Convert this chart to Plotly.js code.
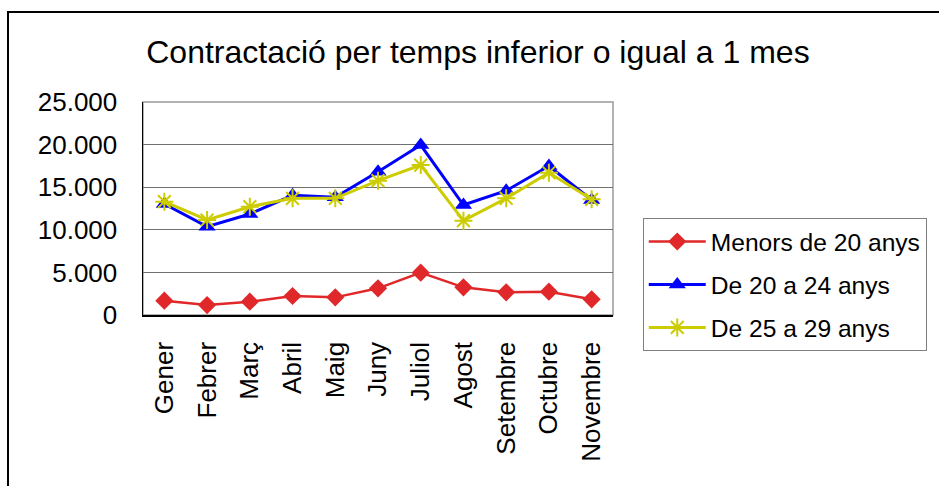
<!DOCTYPE html>
<html>
<head>
<meta charset="utf-8">
<script src="https://cdn.plot.ly/plotly-3.0.1.min.js"></script>
<style>
  html, body { margin: 0; padding: 0; background: #fff; }
  #wrap { position: relative; width: 939px; height: 486px; }
  #chart { width: 939px; height: 486px; }
  #frame { position: absolute; left: 7px; top: 11px; width: 940px; height: 480px;
           border-left: 2px solid #000; border-top: 2px solid #000; pointer-events: none; }
</style>
</head>
<body>
<div id="wrap">
  <div id="chart"></div>
  <div id="frame"></div>
</div>
<script>
const months = ["Gener","Febrer","Març","Abril","Maig","Juny","Juliol","Agost","Setembre","Octubre","Novembre"];
const menors20 = [1680, 1170, 1560, 2230, 2070, 3130, 4970, 3250, 2660, 2740, 1840];
const de20a24 = [13030, 10370, 11850, 14050, 13810, 16820, 19950, 12910, 14590, 17490, 13500];
const de25a29 = [13300, 11150, 12710, 13690, 13690, 15770, 17600, 11070, 13690, 16700, 13580];
const seriesNames = ["Menors de 20 anys", "De 20 a 24 anys", "De 25 a 29 anys"];
const yTickVals = [0, 5000, 10000, 15000, 20000, 25000];
const yTickText = ["0", "5.000", "10.000", "15.000", "20.000", "25.000"];

const traces = [
  { x: months, y: menors20, name: seriesNames[0], type: "scatter", mode: "lines+markers",
    legendgroup: "a",
    line: { color: "#E0282A", width: 2.5 },
    marker: { symbol: "diamond", size: 14, color: "#E0282A" } },
  { x: months, y: de20a24, name: seriesNames[1], type: "scatter", mode: "lines+markers",
    legendgroup: "b",
    line: { color: "#0000FF", width: 3 },
    marker: { symbol: "triangle-up", size: 15, color: "#0000FF" } },
  { x: months, y: de25a29, name: seriesNames[2], type: "scatter", mode: "lines+markers",
    legendgroup: "c",
    line: { color: "#CCCC00", width: 3 },
    marker: { symbol: "asterisk-open", size: 15, color: "#CCCC00", line: { color: "#CCCC00", width: 2 } } }
];

const layout = {
  width: 939, height: 486,
  margin: { l: 143, r: 322, t: 102, b: 171, pad: 0 },
  paper_bgcolor: "#ffffff", plot_bgcolor: "#ffffff",
  font: { family: "Liberation Sans, Arial, sans-serif", color: "#000" },
  title: { text: "Contractació per temps inferior o igual a 1 mes",
           font: { size: 32, color: "#000" }, x: 0.509, xanchor: "center", y: 0.893, yanchor: "middle" },
  showlegend: true,
  legend: { font: { size: 24.6 }, bordercolor: "#808080", borderwidth: 1,
            bgcolor: "#fff", tracegroupgap: 8, traceorder: "grouped", itemwidth: 57 },
  xaxis: { type: "category", range: [-0.5, 10.5], tickangle: -90, tickfont: { size: 26 },
           showgrid: false, showline: true, linecolor: "#000", linewidth: 1.5, ticks: "",
           ticklabelstandoff: 15, zeroline: false, fixedrange: true },
  yaxis: { range: [0, 25000], tickvals: yTickVals, ticktext: yTickText, tickfont: { size: 26 },
           showgrid: true, gridcolor: "#707070", gridwidth: 1, showline: true, linecolor: "#000",
           linewidth: 1.5, ticks: "", ticklabelstandoff: 19, zeroline: false, fixedrange: true },
  shapes: [
    { type: "rect", xref: "paper", yref: "paper", x0: 0, x1: 1, y0: 0, y1: 1,
      line: { color: "#9a9a9a", width: 1.5 }, layer: "below" }
  ]
};
// legend placement in paper coords (plot area 143..617, 102..315)
const pw = 939 - 143 - 322, ph = 486 - 102 - 171;
layout.legend.x = (647 - 143) / pw;
layout.legend.xanchor = "left";
layout.legend.y = (315 - 218) / ph;
layout.legend.yanchor = "top";
layout.legend.xref = "paper";
layout.legend.yref = "paper";

Plotly.newPlot("chart", traces, layout, { staticPlot: true, displayModeBar: false });
</script>
</body>
</html>
